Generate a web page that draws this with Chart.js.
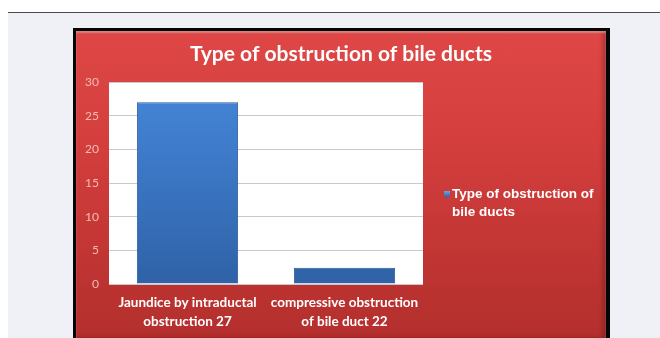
<!DOCTYPE html>
<html>
<head>
<meta charset="utf-8">
<script src="https://cdn.jsdelivr.net/npm/chart.js@4.4.1/dist/chart.umd.min.js"></script>
<style>
  html, body { margin: 0; padding: 0; background: #ffffff; width: 660px; height: 338px; overflow: hidden; }
  #page { position: absolute; left: 8px; top: 12px; width: 652px; height: 326px; background: #f0f1f6; border-top: 1px solid #4a4a4a; }
  #frame { position: absolute; left: 73px; top: 28px; width: 537px; height: 320px; background: #050505; }
  #panel { position: absolute; left: 76px; top: 31px; width: 530px; height: 307px;
    background: linear-gradient(180deg, #de4745 0%, #d43f3d 35%, #c23634 70%, #b32f2d 100%);
    box-shadow: inset 0 2px 2px rgba(255,255,255,0.35), inset -3px 0 4px rgba(0,0,0,0.25); }
  #wrap { position: absolute; left: 76px; top: 31px; width: 530px; height: 307px; }
</style>
</head>
<body>
<div id="page"></div>
<div id="frame"></div>
<div id="panel"></div>
<div id="wrap"><canvas id="c" width="530" height="307"></canvas></div>
<script>
const chartTitle = "Type of obstruction of bile ducts";
const seriesName = "Type of obstruction of bile ducts";
const categories = [
  ["Jaundice by intraductal", "obstruction 27"],
  ["compressive obstruction", "of bile duct 22"]
];
const values = [27, 2.4];
const yTicks = [0, 5, 10, 15, 20, 25, 30];

const titlePlugin = {
  id: 'panelTitle',
  afterDraw(chart) {
    const ctx = chart.ctx;
    ctx.save();
    ctx.fillStyle = '#ffffff';
    ctx.font = 'bold 21px Lato, "Open Sans", sans-serif';
    ctx.textAlign = 'center';
    ctx.textBaseline = 'middle';
    ctx.fillText(chartTitle, chart.width / 2, 23);
    ctx.restore();
  }
};

const legendPlugin = {
  id: 'sideLegend',
  afterDraw(chart) {
    const ctx = chart.ctx;
    const ca = chart.chartArea;
    const x = ca.right + 21;
    const y = ca.top + 112;
    ctx.save();
    const g = ctx.createLinearGradient(0, y - 3, 0, y + 3);
    g.addColorStop(0, '#6fa3e6');
    g.addColorStop(1, '#2f64a8');
    ctx.fillStyle = g;
    ctx.fillRect(x, y - 3, 6, 6);
    ctx.fillStyle = '#ffffff';
    ctx.font = 'bold 13.5px "Liberation Sans", Arial, sans-serif';
    ctx.textBaseline = 'middle';
    ctx.textAlign = 'left';
    const words = seriesName.split(' ');
    const lines = [words.slice(0, 4).join(' '), words.slice(4).join(' ')];
    lines.forEach((l, i) => ctx.fillText(l, x + 8, y + i * 18));
    ctx.restore();
  }
};

const ctx = document.getElementById('c').getContext('2d');
new Chart(ctx, {
  type: 'bar',
  data: {
    labels: categories,
    datasets: [{
      label: seriesName,
      data: values,
      backgroundColor: (c) => {
        const ch = c.chart;
        const ca = ch.chartArea;
        if (!ca) return '#3a76c4';
        const g = ch.ctx.createLinearGradient(0, ca.top, 0, ca.bottom);
        g.addColorStop(0, '#4686d8');
        g.addColorStop(0.5, '#3a75c2');
        g.addColorStop(1, '#2f62a6');
        return g;
      },
      borderColor: '#2b5b9c',
      borderWidth: 1,
      categoryPercentage: 0.645,
      barPercentage: 1.0
    }]
  },
  options: {
    responsive: false,
    animation: false,
    devicePixelRatio: 1,
    layout: { padding: { left: 0, right: 183, top: 51, bottom: 0 } },
    plugins: {
      legend: { display: false },
      tooltip: { enabled: false },
      title: { display: false }
    },
    scales: {
      x: {
        grid: { display: false, drawTicks: false },
        border: { display: false },
        ticks: {
          color: '#ffffff',
          font: { family: 'Lato, "Open Sans", sans-serif', size: 13.5, weight: 'bold', lineHeight: 1.35 },
          padding: 10,
          maxRotation: 0,
          autoSkip: false
        },
        afterFit(s) { s.height = 54; }
      },
      y: {
        min: 0, max: 30,
        afterBuildTicks(s) { s.ticks = yTicks.map(v => ({ value: v })); },
        grid: { color: '#c9c9c9', drawTicks: false, lineWidth: 1 },
        border: { display: false },
        ticks: {
          color: '#f6bab5',
          font: { family: 'Lato, "Open Sans", sans-serif', size: 12 },
          padding: 10
        },
        afterFit(s) { s.width = 33; }
      }
    }
  },
  plugins: [{
    id: 'whitePlot',
    beforeDraw(chart) {
      const ca = chart.chartArea;
      chart.ctx.save();
      chart.ctx.fillStyle = '#ffffff';
      chart.ctx.fillRect(ca.left, ca.top, ca.right - ca.left, ca.bottom - ca.top);
      chart.ctx.restore();
    }
  }, titlePlugin, legendPlugin]
});
</script>
</body>
</html>
